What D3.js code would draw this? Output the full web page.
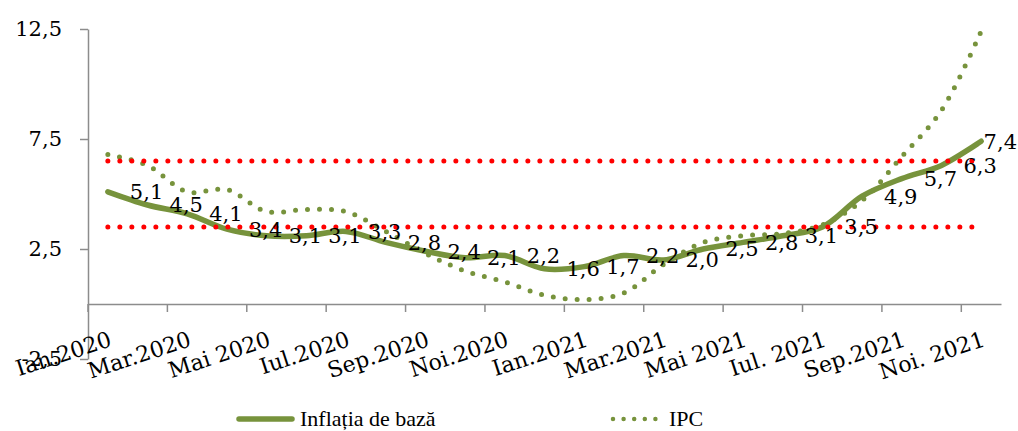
<!DOCTYPE html>
<meta charset="utf-8">
<script src="https://d3js.org/d3.v7.min.js"></script>
<style>
    body { margin: 0; background: #fff; }
    svg { display: block; font-family: "DejaVu Serif", "Liberation Serif", serif; }
</style>
<svg width="1018" height="431"></svg>
<script>
    // months (category axis), only every second one is labelled
    var categories = ['Ian.2020', 'Feb.2020', 'Mar.2020', 'Apr.2020', 'Mai 2020', 'Iun.2020',
        'Iul.2020', 'Aug.2020', 'Sep.2020', 'Oct.2020', 'Noi.2020', 'Dec.2020',
        'Ian.2021', 'Feb.2021', 'Mar.2021', 'Apr.2021', 'Mai 2021', 'Iun.2021',
        'Iul. 2021', 'Aug.2021', 'Sep.2021', 'Oct.2021', 'Noi. 2021'];
    var coreInflation = [5.1, 4.5, 4.1, 3.4, 3.1, 3.1, 3.3, 2.8, 2.4, 2.1, 2.2, 1.6,
        1.7, 2.2, 2.0, 2.5, 2.8, 3.1, 3.5, 4.9, 5.7, 6.3, 7.4];
    var cpi = [6.8, 6.3, 5.1, 5.2, 4.2, 4.3, 4.2, 3.3, 2.3, 1.5, 1.0, 0.4,
        0.2, 0.5, 1.8, 2.8, 3.1, 3.2, 3.6, 4.7, 6.7, 8.8, 12.4];
    var corridor = [3.5, 6.5];
    var yTicks = [-2.5, 2.5, 7.5, 12.5];
    var seriesNames = ['Inflația de bază', 'IPC'];

    var green = '#77933c';
    var axisColor = '#8c8c8c';
    var fontSize = 21;

    var svg = d3.select('svg');

    var x = d3.scaleBand()
        .domain(categories)
        .range([88, 1001]);
    var y = d3.scaleLinear()
        .domain([-2.5, 12.5])
        .range([359, 29]);

    function cx(d, i) { return x(categories[i]) + x.bandwidth() / 2; }
    function fmt(v) { return (v < 0 ? '-' : '') + Math.abs(v).toFixed(1).replace('.', ','); }

    // y axis
    var yAxis = d3.axisLeft(y)
        .tickValues(yTicks)
        .tickSize(8)
        .tickSizeOuter(0)
        .tickPadding(18)
        .tickFormat(fmt);
    var gy = svg.append('g')
        .attr('transform', 'translate(88,0)')
        .call(yAxis)
        .attr('font-family', null)
        .attr('font-size', null);
    gy.selectAll('path, line').attr('stroke', axisColor).attr('stroke-width', 1.5);
    gy.selectAll('text')
        .attr('font-size', fontSize)
        .attr('fill', '#000');

    // x axis, crossing at 0
    var xAxis = d3.axisBottom(x)
        .tickValues(categories.filter(function(d, i) { return i % 2 === 0; }))
        .tickSize(8)
        .tickSizeOuter(0);
    var gx = svg.append('g')
        .attr('transform', 'translate(0,' + y(0) + ')')
        .call(xAxis)
        .attr('font-family', null)
        .attr('font-size', null);
    gx.selectAll('path, line').attr('stroke', axisColor).attr('stroke-width', 1.5);
    // ticks sit between categories
    gx.selectAll('.tick line')
        .attr('x1', -x.step() / 2)
        .attr('x2', -x.step() / 2);
    gx.selectAll('.tick text')
        .attr('font-size', 22)
        .attr('fill', '#000')
        .attr('text-anchor', 'end')
        .attr('y', 0)
        .attr('dy', '0.75em')
        .attr('transform', 'translate(0,26) rotate(-18)');

    var smooth = d3.line()
        .x(cx)
        .y(function(d) { return y(d); })
        .curve(d3.curveCatmullRom.alpha(0.5));

    // core inflation
    svg.append('path')
        .datum(coreInflation)
        .attr('d', smooth)
        .attr('fill', 'none')
        .attr('stroke', green)
        .attr('stroke-width', 5.5)
        .attr('stroke-linejoin', 'round')
        .attr('stroke-linecap', 'round');

    // CPI, round dots
    svg.append('path')
        .datum(cpi)
        .attr('d', smooth)
        .attr('fill', 'none')
        .attr('stroke', green)
        .attr('stroke-width', 5)
        .attr('stroke-dasharray', '0 12')
        .attr('stroke-linecap', 'round');

    // target corridor
    corridor.forEach(function(v) {
        svg.append('path')
            .datum(categories.map(function() { return v; }))
            .attr('d', d3.line().x(cx).y(function(d) { return y(d); }))
            .attr('fill', 'none')
            .attr('stroke', '#ff0000')
            .attr('stroke-width', 5)
            .attr('stroke-dasharray', '0 12')
            .attr('stroke-linecap', 'round');
    });

    // data labels to the right of core inflation points
    svg.selectAll('text.lbl')
        .data(coreInflation)
        .enter()
        .append('text')
        .classed('lbl', true)
        .attr('font-size', fontSize)
        .attr('dy', '0.35em')
        .attr('y', function(d) { return y(d); })
        .text(fmt)
        .attr('x', function(d, i) {
            var w = this.getComputedTextLength();
            return Math.min(cx(d, i) + 22, 1017 - w);
        });

    // legend
    var leg = svg.append('g')
        .attr('font-family', '"Liberation Serif", serif')
        .attr('font-size', 22);
    leg.append('line')
        .attr('x1', 239).attr('x2', 292)
        .attr('y1', 419).attr('y2', 419)
        .attr('stroke', green)
        .attr('stroke-width', 5.5)
        .attr('stroke-linecap', 'round');
    leg.append('text')
        .attr('x', 300).attr('y', 419)
        .attr('dy', '0.3em')
        .text(seriesNames[0]);
    leg.append('line')
        .attr('x1', 613).attr('x2', 666)
        .attr('y1', 419).attr('y2', 419)
        .attr('stroke', green)
        .attr('stroke-width', 4.5)
        .attr('stroke-dasharray', '0 10.6')
        .attr('stroke-linecap', 'round');
    leg.append('text')
        .attr('x', 669).attr('y', 419)
        .attr('dy', '0.3em')
        .text(seriesNames[1]);
</script>
